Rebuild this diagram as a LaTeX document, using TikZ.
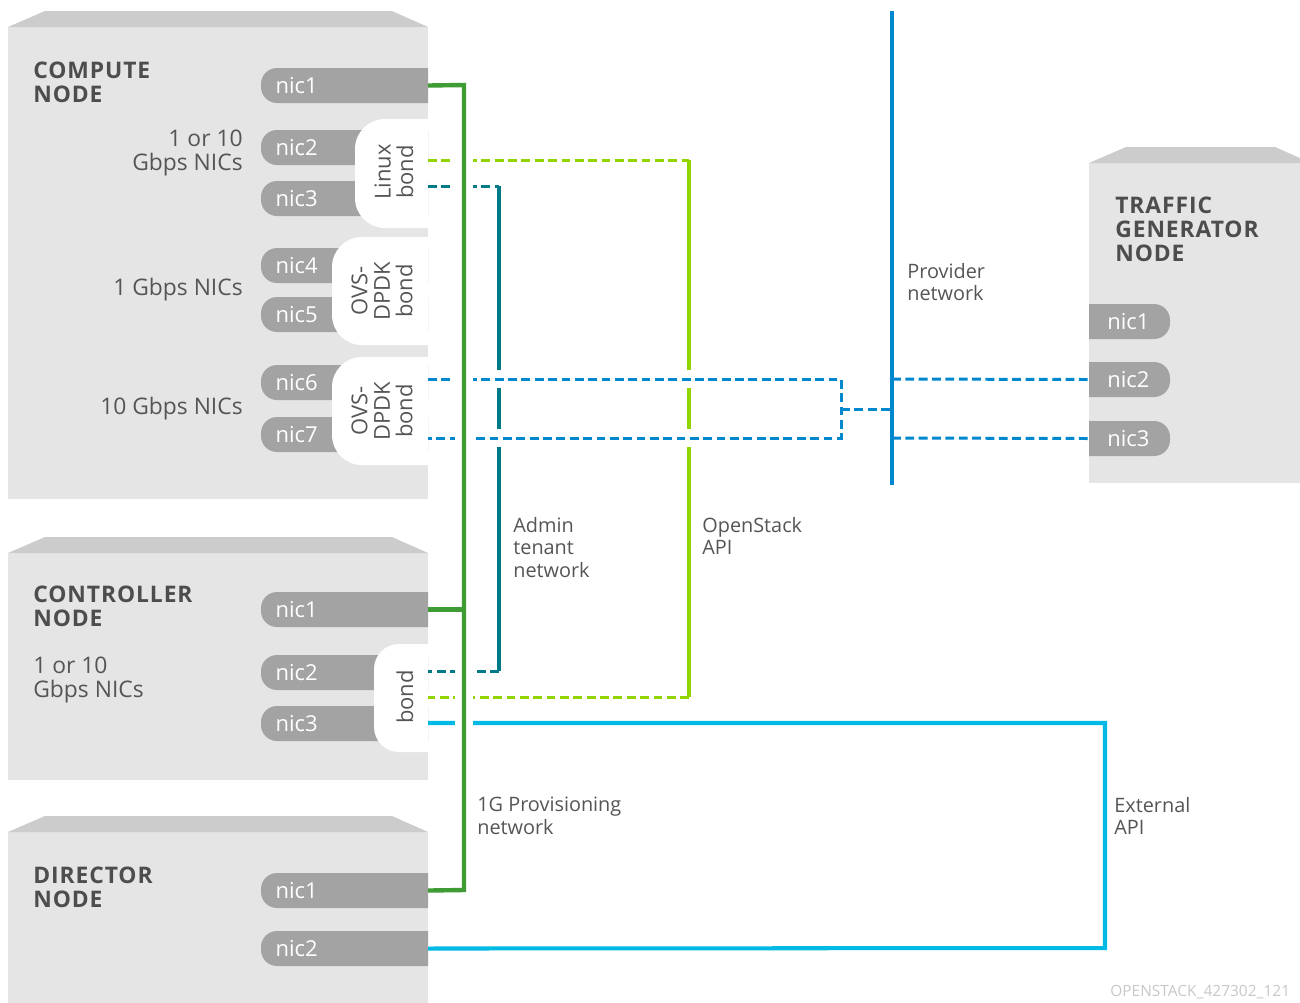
\documentclass[tikz,border=0pt]{standalone}
\usepackage{fontspec}
\setmainfont{Open Sans}
\newfontfamily\titlefont[LetterSpace=4]{Open Sans}
\usetikzlibrary{calc}
\definecolor{boxbody}{HTML}{E5E5E5}
\definecolor{boxtop}{HTML}{CCCCCC}
\definecolor{nicgray}{HTML}{A3A3A3}
\definecolor{titlec}{HTML}{4D4D4D}
\definecolor{labelc}{HTML}{555555}
\definecolor{provgreen}{HTML}{3F9C35}
\definecolor{adminteal}{HTML}{007A87}
\definecolor{apigreen}{HTML}{92D400}
\definecolor{provblue}{HTML}{0088CE}
\definecolor{extcyan}{HTML}{00B9E4}
\definecolor{wmark}{HTML}{C8C8C8}
\newcommand\nicL[3]{%
  \fill[nicgray,rounded corners=0.32cm] (428,-#2) -- (261,-#2) -- (261,-#2-35) -- (428,-#2-35);
  \node[pillbox,minimum width=3.34cm,anchor=east] (#1) at (428,-#2-17.5) {};
  \node[nictxt,anchor=west] (#1txt) at ([xshift=0.3cm]#1.west) {#3};
}
\newcommand\nicR[3]{%
  \fill[nicgray,rounded corners=0.32cm] (1089,-#2) -- (1170,-#2) -- (1170,-#2-35) -- (1089,-#2-35);
  \node[pillbox,minimum width=1.62cm,anchor=west] (#1) at (1089,-#2-17.5) {};
  \node[nictxt,anchor=west] (#1txt) at ([xshift=0.36cm]#1.west) {#3};
}
\newcommand\srvbox[4]{% left, right, top of bevel, bottom
  \fill[boxbody] (#1,-#3-16) rectangle (#2,-#4);
  \fill[boxtop] (#1,-#3-16) -- (#1+37,-#3) -- (#2-36,-#3) -- (#2,-#3-16) -- cycle;
}
\begin{document}
\begin{tikzpicture}[x=0.02cm,y=0.02cm,
  title/.style={font=\titlefont\bfseries\fontsize{13}{13.6}\selectfont, text=titlec, align=left, inner sep=0, anchor=north west},
  grp/.style={font=\fontsize{13}{13.6}\selectfont, text=labelc, inner sep=0},
  netlbl/.style={font=\fontsize{11.3}{12.8}\selectfont, text=labelc, align=left, inner sep=0, anchor=north west},
  nictxt/.style={font=\fontsize{12.5}{13}\selectfont, text=white, inner sep=0},
  bondtxt/.style={font=\fontsize{12.5}{12.8}\selectfont, text=labelc, align=center, rotate=90, inner sep=0},
  pillbox/.style={inner sep=0, minimum height=0.7cm},
  solidln/.style={line width=2.5pt},
  dashln/.style={line width=1.7pt, dash pattern=on 5pt off 2.6pt},
  casing/.style={white, line width=0.36cm}]
\clip (0,0) rectangle (1300,-1002);
\fill[white] (0,0) rectangle (1300,-1002);

% server boxes
\srvbox{8}{428}{11}{499}
\srvbox{8}{428}{537}{780}
\srvbox{8}{428}{816}{1010}
\srvbox{1089}{1311}{147}{483}

% compute NICs
\nicL{c1}{68}{nic1}
\nicL{c2}{130}{nic2}
\nicL{c3}{181}{nic3}
\nicL{c4}{248}{nic4}
\nicL{c5}{297}{nic5}
\nicL{c6}{365}{nic6}
\nicL{c7}{417}{nic7}
% controller NICs
\nicL{k1}{592}{nic1}
\nicL{k2}{655}{nic2}
\nicL{k3}{706}{nic3}
% director NICs
\nicL{d1}{873}{nic1}
\nicL{d2}{931}{nic2}
% traffic generator NICs
\nicR{t1}{304}{nic1}
\nicR{t2}{362}{nic2}
\nicR{t3}{421}{nic3}

% bonds
\fill[white,rounded corners=0.6cm] (428,-119) -- (355,-119) -- (355,-228) -- (428,-228);
\fill[white,rounded corners=0.6cm] (428,-237) -- (332,-237) -- (332,-345) -- (428,-345);
\fill[white,rounded corners=0.6cm] (428,-357) -- (332,-357) -- (332,-465) -- (428,-465);
\fill[white,rounded corners=0.5cm] (428,-644) -- (374,-644) -- (374,-752) -- (428,-752);
\node[bondtxt] (lbond) at (394,-172) {Linux\\bond};
\node[bondtxt] (obond1) at (382,-291) {OVS-\\DPDK\\bond};
\node[bondtxt] (obond2) at (382,-411) {OVS-\\DPDK\\bond};
\node[bondtxt] (kbond) at (405,-697) {bond};

% titles and labels
\node[title] (tcomp) at (33,-62) {COMPUTE\\NODE};
\node[title] (tctrl) at (33,-586) {CONTROLLER\\NODE};
\node[title] (tdir) at (33,-867) {DIRECTOR\\NODE};
\node[title] (ttg) at (1115,-197) {TRAFFIC\\GENERATOR\\NODE};
\node[grp,align=right,anchor=north east] (g1) at (243,-130) {1 or 10\\Gbps NICs};
\node[grp,anchor=east] (g2) at (243,-290) {1 Gbps NICs};
\node[grp,anchor=east] (g3) at (243,-409) {10 Gbps NICs};
\node[grp,align=left,anchor=north west] (g4) at (33,-657) {1 or 10\\Gbps NICs};
\node[netlbl] (lprov) at (907,-263) {Provider\\network};
\node[netlbl] (ladm) at (513,-517) {Admin\\tenant\\network};
\node[netlbl] (lapi) at (702,-517) {OpenStack\\API};
\node[netlbl] (lpxe) at (477,-797) {1G Provisioning\\network};
\node[netlbl] (lext) at (1114,-797) {External\\API};
\node[anchor=north west, font=\fontsize{8.8}{9}\selectfont, text=wmark, inner sep=0] (wm) at (1110,-985) {OPENSTACK\_427302\_121};

% connection points
\coordinate (lb-api) at (428,-160);
\coordinate (lb-adm) at (428,-186);
\coordinate (ob-a) at (428,-379);
\coordinate (ob-b) at (428,-438);
\coordinate (kb-adm) at (428,-671);
\coordinate (kb-api) at (428,-697);
\coordinate (kb-ext) at (428,-723);
\coordinate (adm1) at (499,-186);
\coordinate (adm2) at (499,-671);
\coordinate (api1) at (689,-160);
\coordinate (api2) at (689,-697);
\coordinate (pa) at (841,-379);
\coordinate (pb) at (841,-438);
\coordinate (pm) at (841,-409);
\coordinate (pv-top) at (892,-11);
\coordinate (pv-bot) at (892,-485);
\coordinate (ext1) at (1105,-723);
\coordinate (ext2) at (1105,-948);
\coordinate (g-top) at (464,-85);
\coordinate (g-bot) at (464,-890);

% admin tenant network
\draw[dashln,adminteal] (lb-adm) -- (adm1);
\draw[solidln,adminteal,line width=2.6pt] (adm1) -- (adm2);
\draw[dashln,adminteal] (adm2) -- (kb-adm);
% OpenStack API
\draw[dashln,apigreen] (lb-api) -- (api1);
\draw[solidln,apigreen,line width=2.6pt] (api1) -- (api2);
\draw[dashln,apigreen] (api2) -- (kb-api);
% provider network
\draw[casing] (472,-379) -- (830,-379);
\draw[casing] (472,-438) -- (830,-438);
\draw[dashln,provblue] (ob-a) -- (pa) -- (pb) -- (ob-b);
\draw[dashln,provblue] (pm) -- (pm -| pv-top);
\draw[provblue,line width=2.8pt] (pv-top) -- (pv-bot);
\draw[dashln,provblue] (ob-a -| pv-top) -- (t2.west);
\draw[dashln,provblue] (ob-b -| pv-top) -- (t3.west);
% external API
\draw[extcyan,line width=2.3pt] (kb-ext) -- (ext1) -- (ext2) -- (d2.east);
% provisioning network
\draw[casing] (g-top) -- (g-bot);
\draw[solidln,provgreen] (c1.east) -- (g-top) -- (g-bot) -- (d1.east);
\draw[solidln,provgreen] (k1.east) -- (k1.east -| g-top);
\end{tikzpicture}
\end{document}
